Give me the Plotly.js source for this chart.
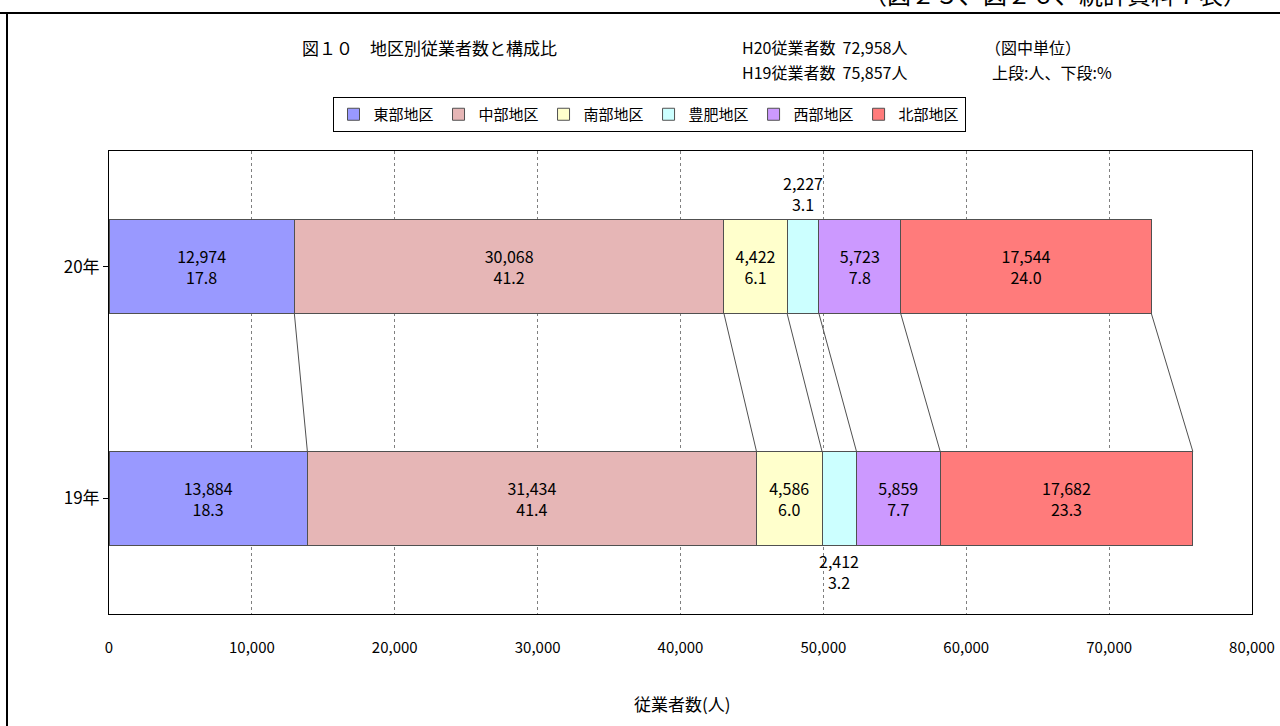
<!DOCTYPE html>
<html>
<head>
<meta charset="utf-8">
<script src="https://cdn.plot.ly/plotly-3.0.1.min.js"></script>
<style>
  html, body { margin: 0; padding: 0; background: #ffffff; }
  #chart { width: 1280px; height: 726px; }
</style>
</head>
<body>
<div id="chart"></div>
<script>
// 地区別従業者数と構成比（H20 / H19）
const districts = ['東部地区', '中部地区', '南部地区', '豊肥地区', '西部地区', '北部地区'];
const years = ['19年', '20年'];
const workersH20 = [12974, 30068, 4422, 2227, 5723, 17544];
const workersH19 = [13884, 31434, 4586, 2412, 5859, 17682];
const shareH20 = [17.8, 41.2, 6.1, 3.1, 7.8, 24.0];
const shareH19 = [18.3, 41.4, 6.0, 3.2, 7.7, 23.3];
const totalH20 = 72958;
const totalH19 = 75857;
const xTicks = [0, 10000, 20000, 30000, 40000, 50000, 60000, 70000, 80000];

const colors = ['#9999FF', '#E6B6B6', '#FFFFCC', '#CCFFFF', '#CC99FF', '#FF7B7B'];
const FONT = '"Noto Sans CJK JP", "Noto Sans", sans-serif';
const BAR_W = 0.405;
const OUTSIDE_IDX = 3; // 豊肥地区: labels sit outside the bars

// plot area in pixels (for placing paper-referenced text)
const L = 109, R = 28, T = 151, B = 112, W = 1280, H = 726;
const pw = W - L - R, ph = H - T - B;
const px = v => (v - L) / pw;
const py = v => (H - B - v) / ph;

const fmt = n => n.toLocaleString('en-US');
const label = (v, p) => fmt(v) + '<br>' + p.toFixed(1);

const traces = [];
districts.forEach((name, i) => {
  traces.push({
    type: 'bar',
    orientation: 'h',
    name: name,
    x: [workersH19[i], workersH20[i]],
    y: [0, 1],
    width: BAR_W,
    marker: { color: colors[i], line: { color: '#505050', width: 1 } },
    text: [label(workersH19[i], shareH19[i]), label(workersH20[i], shareH20[i])],
    textposition: i === OUTSIDE_IDX ? 'none' : 'inside',
    insidetextanchor: 'middle',
    textangle: 0,
    constraintext: 'none',
    textfont: { family: FONT, size: 16, color: '#000000' },
    hoverinfo: 'name+x'
  });
});

// series lines joining the segment boundaries of the two bars
const cum = arr => arr.reduce((acc, v) => { acc.push((acc.length ? acc[acc.length - 1] : 0) + v); return acc; }, []);
const cum20 = cum(workersH20);
const cum19 = cum(workersH19);
cum20.forEach((c, i) => {
  traces.push({
    type: 'scatter',
    mode: 'lines',
    x: [c, cum19[i]],
    y: [1 - BAR_W / 2, BAR_W / 2],
    line: { color: '#505050', width: 1 },
    showlegend: false,
    hoverinfo: 'skip'
  });
});

const txt = (text, x, y, size, xanchor) => ({
  text: text, xref: 'paper', yref: 'paper', x: x, y: y,
  xanchor: xanchor || 'left', yanchor: 'middle', showarrow: false,
  font: { family: FONT, size: size, color: '#000000' }
});

// outside labels for the narrow 豊肥地区 segments
const mid20 = cum20[OUTSIDE_IDX] - workersH20[OUTSIDE_IDX] / 2;
const mid19 = cum19[OUTSIDE_IDX] - workersH19[OUTSIDE_IDX] / 2;

const annotations = [
  txt('図１０　地区別従業者数と構成比', px(300), py(47), 17),
  txt('H20従業者数  ' + fmt(totalH20) + '人', px(740), py(47), 16),
  txt('H19従業者数  ' + fmt(totalH19) + '人', px(740), py(72), 16),
  txt('（図中単位）', px(983), py(47), 16),
  txt('上段:人、下段:%', px(990), py(72), 16),
  txt('従業者数(人)', px(683), py(703), 17, 'center'),
  txt('（図２５、図２６、統計資料７表）', px(1055), py(-6), 24, 'center'),
  {
    text: label(workersH20[OUTSIDE_IDX], shareH20[OUTSIDE_IDX]),
    xref: 'x', yref: 'y', x: mid20, y: 1 + BAR_W / 2,
    xanchor: 'center', yanchor: 'bottom', showarrow: false, yshift: 2,
    font: { family: FONT, size: 16, color: '#000000' }
  },
  {
    text: label(workersH19[OUTSIDE_IDX], shareH19[OUTSIDE_IDX]),
    xref: 'x', yref: 'y', x: mid19, y: -BAR_W / 2,
    xanchor: 'center', yanchor: 'top', showarrow: false, yshift: -2,
    font: { family: FONT, size: 16, color: '#000000' }
  }
];

const layout = {
  width: W, height: H,
  margin: { l: L, r: R, t: T, b: B },
  paper_bgcolor: '#ffffff',
  plot_bgcolor: '#ffffff',
  barmode: 'stack',
  font: { family: FONT, color: '#000000' },
  showlegend: true,
  legend: {
    orientation: 'h',
    x: px(649), xanchor: 'center',
    y: py(97), yanchor: 'top',
    bordercolor: '#000000', borderwidth: 1,
    font: { family: FONT, size: 15, color: '#000000' },
    traceorder: 'normal',
    itemwidth: 30,
    tracegroupgap: 0
  },
  xaxis: {
    range: [0, 80000],
    tickvals: xTicks,
    ticktext: xTicks.map(fmt),
    ticks: 'outside', ticklen: 20, tickcolor: 'rgba(0,0,0,0)',
    tickfont: { family: FONT, size: 15, color: '#000000' },
    showgrid: true, gridcolor: '#808080', griddash: 'dot', gridwidth: 1,
    showline: true, linecolor: '#000000', linewidth: 1, mirror: true,
    zeroline: false, fixedrange: true
  },
  yaxis: {
    range: [-0.5, 1.5],
    tickvals: [0, 1],
    ticktext: years,
    ticks: 'outside', ticklen: 5, tickcolor: '#000000',
    tickfont: { family: FONT, size: 17, color: '#000000' },
    showgrid: false,
    showline: true, linecolor: '#000000', linewidth: 1, mirror: true,
    zeroline: false, fixedrange: true
  },
  annotations: annotations,
  shapes: [
    {
      type: 'rect', xref: 'paper', yref: 'paper',
      x0: px(7), x1: px(1320), y0: py(13), y1: py(760),
      line: { color: '#000000', width: 2 }, fillcolor: 'rgba(0,0,0,0)', layer: 'below'
    },
    {
      type: 'line', xref: 'paper', yref: 'paper',
      x0: px(0), x1: px(1280), y0: py(13), y1: py(13),
      line: { color: '#000000', width: 2 }
    }
  ]
};

Plotly.newPlot('chart', traces, layout, { displayModeBar: false, staticPlot: true });
</script>
</body>
</html>
